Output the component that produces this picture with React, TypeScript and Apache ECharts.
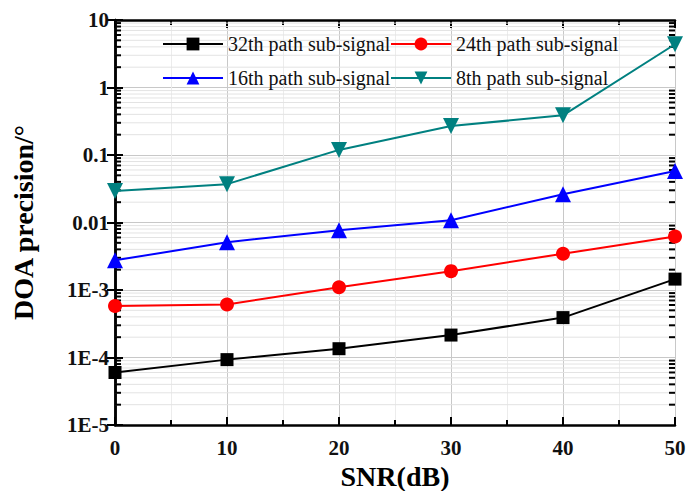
import React, { useEffect, useRef } from "react";
import * as echarts from "echarts";

const snr = [0, 10, 20, 30, 40, 50];
const s32 = [6.0e-5, 9.3e-5, 1.35e-4, 2.15e-4, 3.9e-4, 1.45e-3];
const s24 = [5.8e-4, 6.1e-4, 1.1e-3, 1.9e-3, 3.45e-3, 6.2e-3];
const s16 = [2.75e-3, 5.1e-3, 7.7e-3, 0.0108, 0.0262, 0.058];
const s8 = [0.0293, 0.037, 0.119, 0.269, 0.387, 4.37];
const yLabels: Record<string, string> = {
  "10": "10",
  "1": "1",
  "0.1": "0.1",
  "0.01": "0.01",
  "0.001": "1E-3",
  "0.0001": "1E-4",
  "0.00001": "1E-5",
};

const FONT = '"Liberation Serif", "Times New Roman", serif';

const minorVals: number[] = [];
for (let e = -5; e < 1; e++) {
  for (let m = 2; m <= 9; m++) minorVals.push(Number((m * Math.pow(10, e)).toPrecision(3)));
}

function fmtY(v: number) {
  const k = String(Number(v.toPrecision(3)));
  if (yLabels[k]) return yLabels[k];
  const e = Math.round(Math.log10(v));
  if (e >= 0) return String(Math.pow(10, e));
  if (e >= -2) return v.toFixed(-e);
  return "1E" + e;
}

export default function App() {
  const ref = useRef<HTMLDivElement>(null);
  useEffect(() => {
    if (!ref.current) return;
    const chart = echarts.init(ref.current, null, { renderer: "svg" });
    const lineSeries = (name: string, data: number[], color: string, symbol: string, size: number, rotate = 0) => ({
      name,
      type: "line",
      data: snr.map((x, i) => [x, data[i]]),
      symbol,
      symbolSize: size,
      symbolRotate: rotate,
      itemStyle: { color },
      lineStyle: { color, width: 2 },
      z: 5,
      clip: false,
    });
    const legendBase = {
      orient: "horizontal",
      itemWidth: 60,
      itemHeight: 16,
      itemGap: 0,
      textStyle: { fontFamily: FONT, fontSize: 20, color: "#111" },
      backgroundColor: "transparent",
      padding: 0,
    };
    chart.setOption({
      animation: false,
      backgroundColor: "#fff",
      grid: { left: 115, right: 12, top: 20, bottom: 66, outerBoundsMode: "none", containLabel: false },
      legend: [
        { ...legendBase, data: ["32th path sub-signal"], left: 162, top: 34 },
        { ...legendBase, data: ["24th path sub-signal"], left: 390, top: 34 },
        { ...legendBase, data: ["16th path sub-signal"], left: 162, top: 68 },
        { ...legendBase, data: ["8th path sub-signal"], left: 390, top: 68 },
      ],
      xAxis: [
        {
          type: "value",
          min: 0,
          max: 50,
          interval: 10,
          name: "SNR(dB)",
          nameLocation: "middle",
          nameGap: 32,
          nameTextStyle: { fontFamily: FONT, fontSize: 28, fontWeight: "bold", color: "#000", lineHeight: 28 },
          axisLine: { lineStyle: { color: "#000", width: 2.5 } },
          axisTick: { inside: true, length: 8, lineStyle: { color: "#000", width: 2 } },
          minorTick: { show: true, splitNumber: 2, length: 5, lineStyle: { color: "#000", width: 2 } },
          axisLabel: { fontFamily: FONT, fontSize: 21, fontWeight: "bold", color: "#111", margin: 12 },
          splitLine: { show: true, lineStyle: { color: "#c8c8c8", width: 1 } },
          minorSplitLine: { show: true, lineStyle: { color: "#ececec", width: 1 } },
        },
        {
          type: "value",
          position: "top",
          min: 0,
          max: 50,
          interval: 10,
          axisLine: { show: true, lineStyle: { color: "#000", width: 2.5 } },
          axisTick: { show: true, inside: true, length: 8, lineStyle: { color: "#000", width: 2 } },
          minorTick: { show: true, splitNumber: 2, length: 5, lineStyle: { color: "#000", width: 2 } },
          axisLabel: { show: false },
          splitLine: { show: false },
        },
      ],
      yAxis: [
        {
          type: "log",
          logBase: 10,
          min: 1e-5,
          max: 10,
          splitNumber: 6,
          name: "DOA precision/°",
          nameLocation: "middle",
          nameGap: 78,
          nameTextStyle: { fontFamily: FONT, fontSize: 28, fontWeight: "bold", color: "#000" },
          axisLine: { show: true, lineStyle: { color: "#000", width: 2.5 } },
          axisTick: { show: true, inside: true, length: 8, lineStyle: { color: "#000", width: 2 } },
          axisLabel: {
            fontFamily: FONT,
            fontSize: 21,
            fontWeight: "bold",
            color: "#111",
            margin: 6,
            formatter: (v: number) => fmtY(v),
          },
          splitLine: { show: true, lineStyle: { color: "#c8c8c8", width: 1 } },
        },
        {
          type: "log",
          logBase: 10,
          min: 1e-5,
          max: 10,
          splitNumber: 6,
          position: "right",
          axisLine: { show: true, lineStyle: { color: "#000", width: 2.5 } },
          axisTick: { show: true, inside: true, length: 8, lineStyle: { color: "#000", width: 2 } },
          axisLabel: { show: false },
          splitLine: { show: false },
        },
      ],
      series: [
        {
          type: "custom",
          silent: true,
          z: 1,
          data: minorVals.map((v) => [0, v]),
          renderItem: (params: any, api: any) => {
            const cs = params.coordSys;
            const y = api.coord([0, api.value(1)])[1];
            return {
              type: "group",
              children: [
                {
                  type: "line",
                  shape: { x1: cs.x, y1: y, x2: cs.x + cs.width, y2: y },
                  style: { stroke: "#e3e3e3", lineWidth: 1 },
                },
                {
                  type: "line",
                  shape: { x1: cs.x, y1: y, x2: cs.x + 6, y2: y },
                  style: { stroke: "#000", lineWidth: 2 },
                },
                {
                  type: "line",
                  shape: { x1: cs.x + cs.width - 6, y1: y, x2: cs.x + cs.width, y2: y },
                  style: { stroke: "#000", lineWidth: 2 },
                },
              ],
            };
          },
        },
        lineSeries("32th path sub-signal", s32, "#000000", "rect", 13),
        lineSeries("24th path sub-signal", s24, "#ff0000", "circle", 14),
        lineSeries("16th path sub-signal", s16, "#0000ff", "triangle", 16),
        lineSeries("8th path sub-signal", s8, "#008080", "triangle", 16, 180),
      ],
    });
    return () => chart.dispose();
  }, []);
  return <div ref={ref} style={{ position: "fixed", left: 0, top: 0, width: 687, height: 491 }} />;
}
